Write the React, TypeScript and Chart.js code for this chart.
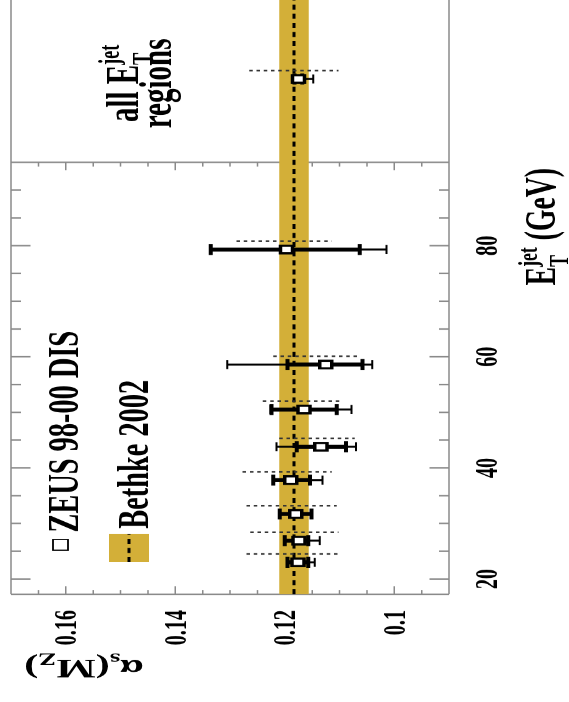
import React, { useEffect, useRef } from "react";
import { Chart, registerables } from "chart.js";

Chart.register(...registerables);

// ---------------- data ----------------
const ET_JET = [23.0, 26.9, 31.7, 37.8, 43.8, 50.5, 58.6, 79.3];
const ALPHA_S = [0.1176, 0.1174, 0.118, 0.1189, 0.1134, 0.1165, 0.1125, 0.1197];
const STAT_UP = [0.1195, 0.12, 0.1209, 0.1221, 0.1178, 0.1224, 0.1195, 0.1335];
const STAT_DN = [0.1157, 0.1157, 0.1151, 0.1154, 0.1088, 0.1105, 0.1058, 0.1063];
const TOT_UP = [0.1195, 0.12, 0.1209, 0.1221, 0.1215, 0.1226, 0.1305, 0.1335];
const TOT_DN = [0.1145, 0.1136, 0.1151, 0.1131, 0.107, 0.1078, 0.104, 0.1014];
const THEO_UP = [0.127, 0.1263, 0.127, 0.1277, 0.121, 0.124, 0.1221, 0.1288];
const THEO_DN = [0.1099, 0.1102, 0.1105, 0.1114, 0.1072, 0.1094, 0.1063, 0.1114];
const THEO_SHIFT = 1.5; // GeV displacement of the theory-uncertainty line

const ALL_X = [110];
const ALL_ALPHA = [0.1175];
const ALL_STAT_UP = [0.1182];
const ALL_STAT_DN = [0.1168];
const ALL_TOT_UP = [0.1185];
const ALL_TOT_DN = [0.1148];
const ALL_THEO_UP = [0.1265];
const ALL_THEO_DN = [0.1102];

const BETHKE = 0.1183;
const BETHKE_ERR = 0.0027;

const X_MIN = 17.25;
const X_MAX = 124.3;
const PANEL_EDGE = 95;
const Y_MIN = 0.09;
const Y_MAX = 0.17;

const X_MAJOR = [20, 40, 60, 80];
const X_LABELS = ["20", "40", "60", "80"];
const X_MINOR = [25, 30, 35, 45, 50, 55, 65, 70, 75, 85, 90];
const Y_MAJOR = [0.1, 0.12, 0.14, 0.16];
const Y_LABELS = ["0.1", "0.12", "0.14", "0.16"];
const Y_MINOR = [0.095, 0.105, 0.11, 0.115, 0.125, 0.13, 0.135, 0.145, 0.15, 0.155, 0.165];

// ---------------- layout / style ----------------
const SX = 0.63;
const CW = 1115;
const CH = 569;
const FONT = '"Liberation Serif", "Times New Roman", serif';
const BAND = "#D3AF38";
const FRAME = "#8a8a8a";

type Seg = { t?: string; size: number; bold?: boolean; dy?: number; sub?: string; sup?: string };

function fontOf(size: number, bold?: boolean) {
  return `${bold ? "bold " : ""}${size}px ${FONT}`;
}

function segWidth(ctx: CanvasRenderingContext2D, s: Seg) {
  ctx.font = fontOf(s.size, s.bold);
  if (s.sub !== undefined || s.sup !== undefined) {
    return Math.max(ctx.measureText(s.sub || "").width, ctx.measureText(s.sup || "").width);
  }
  return ctx.measureText(s.t || "").width;
}

function drawSegs(
  ctx: CanvasRenderingContext2D,
  segs: Seg[],
  x: number,
  y: number,
  align: "left" | "center" | "right",
  base: number
) {
  const total = segs.reduce((a, s) => a + segWidth(ctx, s), 0);
  let cx = align === "left" ? x : align === "center" ? x - total / 2 : x - total;
  ctx.textAlign = "left";
  ctx.textBaseline = "alphabetic";
  for (const s of segs) {
    const w = segWidth(ctx, s);
    ctx.font = fontOf(s.size, s.bold);
    if (s.sub !== undefined || s.sup !== undefined) {
      if (s.sub) ctx.fillText(s.sub, cx, y + 0.3 * base);
      if (s.sup) ctx.fillText(s.sup, cx, y - 0.42 * base);
    } else {
      ctx.fillText(s.t || "", cx, y + (s.dy || 0));
    }
    cx += w;
  }
}

const framePlugin = {
  id: "frameTicks",
  beforeDatasetsDraw(chart: any) {
    const { ctx, chartArea: ca, scales } = chart;
    const x = scales.x;
    const y = scales.y;
    const ud = x.getPixelForValue(PANEL_EDGE);
    ctx.save();
    ctx.strokeStyle = FRAME;
    ctx.lineWidth = 1.5;
    ctx.beginPath();
    ctx.moveTo(ca.left, ca.top);
    ctx.lineTo(ca.right, ca.top);
    ctx.moveTo(ca.left, ca.bottom);
    ctx.lineTo(ca.right, ca.bottom);
    ctx.stroke();
    ctx.lineWidth = 2.4;
    ctx.beginPath();
    ctx.moveTo(ca.left, ca.top);
    ctx.lineTo(ca.left, ca.bottom);
    ctx.moveTo(ud, ca.top);
    ctx.lineTo(ud, ca.bottom);
    ctx.stroke();
    // alpha ticks (inward from left edge and from the panel divider)
    ctx.lineWidth = 1.5;
    ctx.beginPath();
    const aT = (v: number, len: number) => {
      const py = y.getPixelForValue(v);
      ctx.moveTo(ca.left, py);
      ctx.lineTo(ca.left + len, py);
      ctx.moveTo(ud, py);
      ctx.lineTo(ud - len, py);
    };
    Y_MAJOR.forEach((v) => aT(v, 12.7));
    Y_MINOR.forEach((v) => aT(v, 6.8));
    ctx.stroke();
    // ET ticks (inward from top and bottom)
    ctx.lineWidth = 2.4;
    ctx.beginPath();
    const eT = (v: number, len: number) => {
      const px = x.getPixelForValue(v);
      ctx.moveTo(px, ca.top);
      ctx.lineTo(px, ca.top + len);
      ctx.moveTo(px, ca.bottom);
      ctx.lineTo(px, ca.bottom - len);
    };
    X_MAJOR.forEach((v) => eT(v, 19.5));
    X_MINOR.forEach((v) => eT(v, 10));
    ctx.stroke();
    // tick labels
    ctx.fillStyle = "#000";
    ctx.font = fontOf(32, true);
    ctx.textBaseline = "alphabetic";
    ctx.textAlign = "right";
    Y_MAJOR.forEach((v, i) => ctx.fillText(Y_LABELS[i], ca.left - 25, y.getPixelForValue(v) + 10.5));
    ctx.textAlign = "center";
    X_MAJOR.forEach((v, i) => ctx.fillText(X_LABELS[i], x.getPixelForValue(v), ca.bottom + 48));
    ctx.restore();
  },
};

function drawErrors(
  chart: any,
  xs: number[],
  sUp: number[],
  sDn: number[],
  tUp: number[],
  tDn: number[],
  hUp: number[],
  hDn: number[]
) {
  const { ctx, scales } = chart;
  const x = scales.x;
  const y = scales.y;
  ctx.save();
  // theory uncertainty, displaced dotted line
  ctx.strokeStyle = "#333";
  ctx.lineWidth = 2.6;
  ctx.setLineDash([3.5, 3.8]);
  xs.forEach((e, i) => {
    const px = x.getPixelForValue(e + THEO_SHIFT);
    ctx.beginPath();
    ctx.moveTo(px, y.getPixelForValue(hUp[i]));
    ctx.lineTo(px, y.getPixelForValue(hDn[i]));
    ctx.stroke();
  });
  ctx.setLineDash([]);
  ctx.strokeStyle = "#000";
  xs.forEach((e, i) => {
    const px = x.getPixelForValue(e);
    // total (thin)
    const t1 = y.getPixelForValue(tUp[i]);
    const t2 = y.getPixelForValue(tDn[i]);
    ctx.lineWidth = 3.2;
    ctx.beginPath();
    ctx.moveTo(px, t1);
    ctx.lineTo(px, t2);
    ctx.stroke();
    ctx.lineWidth = 2;
    ctx.beginPath();
    ctx.moveTo(px - 7.2, t1);
    ctx.lineTo(px + 7.2, t1);
    ctx.moveTo(px - 7.2, t2);
    ctx.lineTo(px + 7.2, t2);
    ctx.stroke();
    // statistical (thick)
    const s1 = y.getPixelForValue(sUp[i]);
    const s2 = y.getPixelForValue(sDn[i]);
    ctx.lineWidth = 6.3;
    ctx.beginPath();
    ctx.moveTo(px, s1);
    ctx.lineTo(px, s2);
    ctx.stroke();
    ctx.lineWidth = 4;
    ctx.beginPath();
    ctx.moveTo(px - 8.7, s1);
    ctx.lineTo(px + 8.7, s1);
    ctx.moveTo(px - 8.7, s2);
    ctx.lineTo(px + 8.7, s2);
    ctx.stroke();
  });
  ctx.restore();
}

const errorPlugin = {
  id: "errorBars",
  beforeDatasetDraw(chart: any, args: any) {
    if (args.index === 3) drawErrors(chart, ET_JET, STAT_UP, STAT_DN, TOT_UP, TOT_DN, THEO_UP, THEO_DN);
    if (args.index === 4)
      drawErrors(chart, ALL_X, ALL_STAT_UP, ALL_STAT_DN, ALL_TOT_UP, ALL_TOT_DN, ALL_THEO_UP, ALL_THEO_DN);
  },
};

const textPlugin = {
  id: "texts",
  afterDraw(chart: any) {
    const { ctx, chartArea: ca, scales } = chart;
    const x = scales.x;
    ctx.save();
    // legend: ZEUS marker + text
    ctx.fillStyle = "#fff";
    ctx.fillRect(ca.left + 70, 53, 17, 15);
    ctx.strokeStyle = "#000";
    ctx.lineWidth = 1.8;
    ctx.strokeRect(ca.left + 70, 53, 17, 15);
    ctx.fillStyle = "#000";
    drawSegs(ctx, [{ t: "ZEUS 98-00 DIS", size: 45, bold: true }], ca.left + 98, 78, "left", 45);
    // legend: Bethke swatch + text
    ctx.fillStyle = BAND;
    ctx.fillRect(ca.left + 51, 109, 45, 40);
    ctx.strokeStyle = "#000";
    ctx.lineWidth = 3;
    ctx.setLineDash([8, 6.5]);
    ctx.beginPath();
    ctx.moveTo(ca.left + 51, 129);
    ctx.lineTo(ca.left + 96, 129);
    ctx.stroke();
    ctx.setLineDash([]);
    ctx.fillStyle = "#000";
    drawSegs(ctx, [{ t: "Bethke 2002", size: 45, bold: true }], ca.left + 104, 148, "left", 45);
    // panel text
    const uc = x.getPixelForValue(ALL_X[0]) - 7;
    drawSegs(
      ctx,
      [
        { t: "all E", size: 46, bold: true },
        { sub: "T", sup: "jet", size: 29, bold: true },
      ],
      uc,
      138,
      "center",
      46
    );
    drawSegs(ctx, [{ t: "regions", size: 46, bold: true }], uc, 171, "center", 46);
    // x-axis title
    drawSegs(
      ctx,
      [
        { t: "E", size: 44, bold: true },
        { sub: "T", sup: "jet", size: 28, bold: true },
        { t: " (GeV)", size: 44, bold: true },
      ],
      x.getPixelForValue(PANEL_EDGE) - 9,
      555,
      "right",
      44
    );
    // y-axis title (rotated)
    ctx.translate(67, 84);
    ctx.rotate(-Math.PI / 2);
    drawSegs(
      ctx,
      [
        { t: "α", size: 42, bold: true },
        { t: "s", size: 27, bold: true, dy: 10 },
        { t: "(M", size: 42, bold: true },
        { t: "Z", size: 27, bold: true, dy: 10 },
        { t: ")", size: 42, bold: true },
      ],
      0,
      0,
      "center",
      42
    );
    ctx.restore();
  },
};

export default function App() {
  const ref = useRef<HTMLCanvasElement>(null);
  useEffect(() => {
    if (!ref.current) return;
    const bandLo = [
      { x: X_MIN, y: BETHKE - BETHKE_ERR },
      { x: X_MAX, y: BETHKE - BETHKE_ERR },
    ];
    const bandHi = [
      { x: X_MIN, y: BETHKE + BETHKE_ERR },
      { x: X_MAX, y: BETHKE + BETHKE_ERR },
    ];
    const central = [
      { x: X_MIN, y: BETHKE },
      { x: X_MAX, y: BETHKE },
    ];
    const chart = new Chart(ref.current, {
      type: "scatter",
      data: {
        datasets: [
          {
            type: "line",
            data: bandLo,
            borderWidth: 1,
            borderColor: "rgba(0,0,0,0)",
            pointRadius: 0,
            fill: false,
            order: 10,
          } as any,
          {
            type: "line",
            data: bandHi,
            borderWidth: 1,
            borderColor: "rgba(0,0,0,0)",
            pointRadius: 0,
            fill: "-1",
            backgroundColor: BAND,
            order: 9,
          } as any,
          {
            type: "line",
            data: central,
            borderColor: "#000",
            borderWidth: 3,
            borderDash: [8, 6.5],
            pointRadius: 0,
            fill: false,
            order: 8,
          } as any,
          {
            type: "scatter",
            data: ET_JET.map((e, i) => ({ x: e, y: ALPHA_S[i] })),
            pointStyle: "rect",
            pointRadius: 8.5,
            backgroundColor: "#fff",
            borderColor: "#000",
            borderWidth: 3.5,
            order: 1,
          } as any,
          {
            type: "scatter",
            data: ALL_X.map((e, i) => ({ x: e, y: ALL_ALPHA[i] })),
            pointStyle: "rect",
            pointRadius: 8.5,
            backgroundColor: "#fff",
            borderColor: "#000",
            borderWidth: 3.5,
            order: 0,
          } as any,
        ],
      },
      options: {
        animation: false,
        responsive: false,
        maintainAspectRatio: false,
        devicePixelRatio: 1,
        events: [],
        layout: { autoPadding: false, padding: { left: 171, top: 11, right: 0, bottom: 120 } },
        plugins: { legend: { display: false }, tooltip: { enabled: false } },
        scales: {
          x: { type: "linear", min: X_MIN, max: X_MAX, display: false },
          y: { type: "linear", min: Y_MIN, max: Y_MAX, display: false },
        },
      },
      plugins: [framePlugin, errorPlugin, textPlugin],
    });
    return () => chart.destroy();
  }, []);

  return (
    <div
      style={{
        position: "fixed",
        left: 0,
        top: 0,
        width: 569,
        height: 702,
        overflow: "hidden",
        background: "#fff",
      }}
    >
      <div
        style={{
          position: "absolute",
          left: 0,
          top: 0,
          width: CW,
          height: CH,
          transformOrigin: "0 0",
          transform: `translate(0px, 702px) rotate(-90deg) scale(${SX}, 1)`,
        }}
      >
        <canvas ref={ref} width={CW} height={CH} style={{ display: "block" }} />
      </div>
    </div>
  );
}
